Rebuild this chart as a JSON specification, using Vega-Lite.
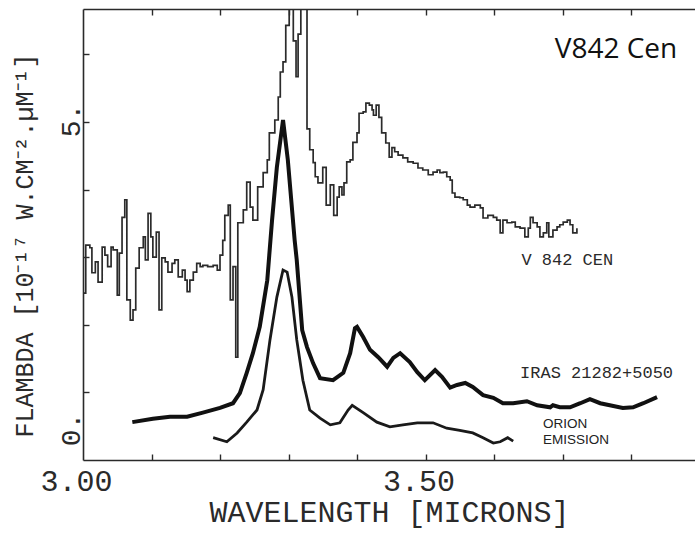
{
  "$schema": "https://vega.github.io/schema/vega-lite/v6.json",
  "width": 612,
  "height": 451,
  "autosize": "none",
  "padding": {"left": 83, "top": 9, "right": 0, "bottom": 75},
  "background": "white",
  "config": {
    "view": {"stroke": null},
    "axis": {
      "grid": false,
      "domainColor": "#2a2a2a",
      "domainWidth": 1.6,
      "tickColor": "#2a2a2a",
      "tickWidth": 1.4,
      "labelColor": "#2a2a2a",
      "titleColor": "#2a2a2a",
      "labelFont": "Liberation Mono",
      "titleFont": "Liberation Mono",
      "titleFontWeight": "normal",
      "labelOverlap": false,
      "labelFlush": false,
      "labelBound": false
    }
  },
  "datasets": {
    "v842": [
      {"wavelength": 3.000, "flux": 2.47},
      {"wavelength": 3.004, "flux": 3.18},
      {"wavelength": 3.010, "flux": 3.14},
      {"wavelength": 3.013, "flux": 2.77},
      {"wavelength": 3.018, "flux": 2.93},
      {"wavelength": 3.022, "flux": 2.63},
      {"wavelength": 3.028, "flux": 3.15},
      {"wavelength": 3.032, "flux": 3.03},
      {"wavelength": 3.036, "flux": 2.86},
      {"wavelength": 3.041, "flux": 3.15},
      {"wavelength": 3.044, "flux": 3.11},
      {"wavelength": 3.050, "flux": 2.44},
      {"wavelength": 3.053, "flux": 3.06},
      {"wavelength": 3.057, "flux": 3.59},
      {"wavelength": 3.061, "flux": 3.85},
      {"wavelength": 3.064, "flux": 2.37},
      {"wavelength": 3.069, "flux": 2.07},
      {"wavelength": 3.073, "flux": 2.22},
      {"wavelength": 3.077, "flux": 2.84},
      {"wavelength": 3.082, "flux": 3.14},
      {"wavelength": 3.088, "flux": 3.30},
      {"wavelength": 3.091, "flux": 2.96},
      {"wavelength": 3.095, "flux": 3.65},
      {"wavelength": 3.099, "flux": 3.30},
      {"wavelength": 3.102, "flux": 3.00},
      {"wavelength": 3.107, "flux": 3.37},
      {"wavelength": 3.111, "flux": 2.22},
      {"wavelength": 3.115, "flux": 2.99},
      {"wavelength": 3.120, "flux": 2.93},
      {"wavelength": 3.124, "flux": 2.78},
      {"wavelength": 3.130, "flux": 2.91},
      {"wavelength": 3.134, "flux": 2.96},
      {"wavelength": 3.139, "flux": 2.71},
      {"wavelength": 3.145, "flux": 2.81},
      {"wavelength": 3.149, "flux": 2.66},
      {"wavelength": 3.152, "flux": 2.49},
      {"wavelength": 3.156, "flux": 2.66},
      {"wavelength": 3.161, "flux": 2.78},
      {"wavelength": 3.166, "flux": 2.91},
      {"wavelength": 3.171, "flux": 2.86},
      {"wavelength": 3.175, "flux": 2.88},
      {"wavelength": 3.182, "flux": 2.86},
      {"wavelength": 3.190, "flux": 2.88},
      {"wavelength": 3.196, "flux": 2.81},
      {"wavelength": 3.200, "flux": 3.03},
      {"wavelength": 3.204, "flux": 3.25},
      {"wavelength": 3.207, "flux": 3.62},
      {"wavelength": 3.212, "flux": 3.77},
      {"wavelength": 3.215, "flux": 2.37},
      {"wavelength": 3.219, "flux": 2.86},
      {"wavelength": 3.223, "flux": 1.52},
      {"wavelength": 3.226, "flux": 3.51},
      {"wavelength": 3.234, "flux": 3.70},
      {"wavelength": 3.239, "flux": 4.11},
      {"wavelength": 3.244, "flux": 3.74},
      {"wavelength": 3.248, "flux": 3.55},
      {"wavelength": 3.255, "flux": 4.04},
      {"wavelength": 3.263, "flux": 4.25},
      {"wavelength": 3.269, "flux": 4.44},
      {"wavelength": 3.272, "flux": 4.84},
      {"wavelength": 3.280, "flux": 5.03},
      {"wavelength": 3.285, "flux": 5.37},
      {"wavelength": 3.288, "flux": 5.74},
      {"wavelength": 3.292, "flux": 5.89},
      {"wavelength": 3.296, "flux": 6.43},
      {"wavelength": 3.301, "flux": 7.2},
      {"wavelength": 3.307, "flux": 6.2},
      {"wavelength": 3.311, "flux": 5.67},
      {"wavelength": 3.314, "flux": 6.3},
      {"wavelength": 3.318, "flux": 7.2},
      {"wavelength": 3.327, "flux": 4.9},
      {"wavelength": 3.331, "flux": 4.59},
      {"wavelength": 3.336, "flux": 4.40},
      {"wavelength": 3.339, "flux": 4.19},
      {"wavelength": 3.343, "flux": 4.10},
      {"wavelength": 3.350, "flux": 4.33},
      {"wavelength": 3.355, "flux": 3.77},
      {"wavelength": 3.361, "flux": 4.07},
      {"wavelength": 3.366, "flux": 3.62},
      {"wavelength": 3.371, "flux": 3.89},
      {"wavelength": 3.374, "flux": 4.04},
      {"wavelength": 3.378, "flux": 3.92},
      {"wavelength": 3.381, "flux": 4.10},
      {"wavelength": 3.385, "flux": 4.41},
      {"wavelength": 3.390, "flux": 4.44},
      {"wavelength": 3.394, "flux": 4.70},
      {"wavelength": 3.400, "flux": 4.84},
      {"wavelength": 3.403, "flux": 5.13},
      {"wavelength": 3.409, "flux": 5.15},
      {"wavelength": 3.413, "flux": 5.28},
      {"wavelength": 3.418, "flux": 5.25},
      {"wavelength": 3.422, "flux": 5.18},
      {"wavelength": 3.424, "flux": 5.10},
      {"wavelength": 3.428, "flux": 5.25},
      {"wavelength": 3.432, "flux": 5.07},
      {"wavelength": 3.436, "flux": 4.84},
      {"wavelength": 3.442, "flux": 4.69},
      {"wavelength": 3.447, "flux": 4.48},
      {"wavelength": 3.451, "flux": 4.62},
      {"wavelength": 3.455, "flux": 4.56},
      {"wavelength": 3.460, "flux": 4.51},
      {"wavelength": 3.467, "flux": 4.47},
      {"wavelength": 3.474, "flux": 4.41},
      {"wavelength": 3.482, "flux": 4.39},
      {"wavelength": 3.489, "flux": 4.32},
      {"wavelength": 3.496, "flux": 4.29},
      {"wavelength": 3.504, "flux": 4.22},
      {"wavelength": 3.511, "flux": 4.26},
      {"wavelength": 3.517, "flux": 4.29},
      {"wavelength": 3.521, "flux": 4.25},
      {"wavelength": 3.526, "flux": 4.26},
      {"wavelength": 3.531, "flux": 4.19},
      {"wavelength": 3.536, "flux": 4.14},
      {"wavelength": 3.539, "flux": 3.95},
      {"wavelength": 3.543, "flux": 3.89},
      {"wavelength": 3.550, "flux": 3.88},
      {"wavelength": 3.555, "flux": 3.85},
      {"wavelength": 3.561, "flux": 3.77},
      {"wavelength": 3.565, "flux": 3.74},
      {"wavelength": 3.572, "flux": 3.77},
      {"wavelength": 3.580, "flux": 3.73},
      {"wavelength": 3.584, "flux": 3.58},
      {"wavelength": 3.591, "flux": 3.62},
      {"wavelength": 3.599, "flux": 3.59},
      {"wavelength": 3.604, "flux": 3.55},
      {"wavelength": 3.609, "flux": 3.36},
      {"wavelength": 3.613, "flux": 3.55},
      {"wavelength": 3.619, "flux": 3.51},
      {"wavelength": 3.626, "flux": 3.52},
      {"wavelength": 3.631, "flux": 3.45},
      {"wavelength": 3.638, "flux": 3.43},
      {"wavelength": 3.645, "flux": 3.30},
      {"wavelength": 3.650, "flux": 3.43},
      {"wavelength": 3.653, "flux": 3.59},
      {"wavelength": 3.657, "flux": 3.51},
      {"wavelength": 3.663, "flux": 3.45},
      {"wavelength": 3.667, "flux": 3.30},
      {"wavelength": 3.672, "flux": 3.36},
      {"wavelength": 3.677, "flux": 3.51},
      {"wavelength": 3.680, "flux": 3.30},
      {"wavelength": 3.686, "flux": 3.40},
      {"wavelength": 3.692, "flux": 3.45},
      {"wavelength": 3.696, "flux": 3.48},
      {"wavelength": 3.701, "flux": 3.52},
      {"wavelength": 3.707, "flux": 3.55},
      {"wavelength": 3.711, "flux": 3.48},
      {"wavelength": 3.715, "flux": 3.36},
      {"wavelength": 3.721, "flux": 3.43}
    ],
    "iras": [
      {"wavelength": 3.072, "flux": 0.56},
      {"wavelength": 3.102, "flux": 0.61},
      {"wavelength": 3.127, "flux": 0.64},
      {"wavelength": 3.152, "flux": 0.64},
      {"wavelength": 3.175, "flux": 0.70},
      {"wavelength": 3.200, "flux": 0.77},
      {"wavelength": 3.219, "flux": 0.84},
      {"wavelength": 3.229, "flux": 0.99},
      {"wavelength": 3.239, "flux": 1.29},
      {"wavelength": 3.248, "flux": 1.58},
      {"wavelength": 3.258, "flux": 1.97},
      {"wavelength": 3.269, "flux": 2.66},
      {"wavelength": 3.276, "flux": 3.55},
      {"wavelength": 3.283, "flux": 4.33},
      {"wavelength": 3.292, "flux": 5.03},
      {"wavelength": 3.299, "flux": 4.44},
      {"wavelength": 3.309, "flux": 3.25},
      {"wavelength": 3.312, "flux": 2.96},
      {"wavelength": 3.320, "flux": 1.92},
      {"wavelength": 3.327, "flux": 1.67},
      {"wavelength": 3.336, "flux": 1.43},
      {"wavelength": 3.346, "flux": 1.21},
      {"wavelength": 3.365, "flux": 1.18},
      {"wavelength": 3.380, "flux": 1.29},
      {"wavelength": 3.390, "flux": 1.58},
      {"wavelength": 3.397, "flux": 1.95},
      {"wavelength": 3.400, "flux": 1.97},
      {"wavelength": 3.409, "flux": 1.82},
      {"wavelength": 3.419, "flux": 1.63},
      {"wavelength": 3.431, "flux": 1.52},
      {"wavelength": 3.444, "flux": 1.38},
      {"wavelength": 3.453, "flux": 1.51},
      {"wavelength": 3.463, "flux": 1.58},
      {"wavelength": 3.477, "flux": 1.45},
      {"wavelength": 3.488, "flux": 1.30},
      {"wavelength": 3.499, "flux": 1.18},
      {"wavelength": 3.514, "flux": 1.33},
      {"wavelength": 3.524, "flux": 1.23},
      {"wavelength": 3.536, "flux": 1.07},
      {"wavelength": 3.546, "flux": 1.11},
      {"wavelength": 3.558, "flux": 1.14},
      {"wavelength": 3.569, "flux": 1.08},
      {"wavelength": 3.584, "flux": 0.96},
      {"wavelength": 3.599, "flux": 0.92},
      {"wavelength": 3.613, "flux": 0.84},
      {"wavelength": 3.628, "flux": 0.84},
      {"wavelength": 3.648, "flux": 0.87},
      {"wavelength": 3.663, "flux": 0.81},
      {"wavelength": 3.682, "flux": 0.78},
      {"wavelength": 3.686, "flux": 0.81},
      {"wavelength": 3.696, "flux": 0.78},
      {"wavelength": 3.711, "flux": 0.78},
      {"wavelength": 3.726, "flux": 0.84},
      {"wavelength": 3.740, "flux": 0.90},
      {"wavelength": 3.755, "flux": 0.84},
      {"wavelength": 3.769, "flux": 0.81},
      {"wavelength": 3.788, "flux": 0.77},
      {"wavelength": 3.803, "flux": 0.78},
      {"wavelength": 3.818, "flux": 0.84},
      {"wavelength": 3.838, "flux": 0.93}
    ],
    "orion": [
      {"wavelength": 3.190, "flux": 0.33},
      {"wavelength": 3.210, "flux": 0.27},
      {"wavelength": 3.225, "flux": 0.40},
      {"wavelength": 3.239, "flux": 0.56},
      {"wavelength": 3.254, "flux": 0.74},
      {"wavelength": 3.263, "flux": 1.04},
      {"wavelength": 3.273, "flux": 1.78},
      {"wavelength": 3.283, "flux": 2.41},
      {"wavelength": 3.292, "flux": 2.81},
      {"wavelength": 3.298, "flux": 2.78},
      {"wavelength": 3.305, "flux": 2.41},
      {"wavelength": 3.312, "flux": 1.78},
      {"wavelength": 3.321, "flux": 1.18},
      {"wavelength": 3.331, "flux": 0.74},
      {"wavelength": 3.346, "flux": 0.62},
      {"wavelength": 3.361, "flux": 0.52},
      {"wavelength": 3.375, "flux": 0.55},
      {"wavelength": 3.387, "flux": 0.74},
      {"wavelength": 3.393, "flux": 0.81},
      {"wavelength": 3.409, "flux": 0.70},
      {"wavelength": 3.429, "flux": 0.56},
      {"wavelength": 3.448, "flux": 0.49},
      {"wavelength": 3.467, "flux": 0.52},
      {"wavelength": 3.488, "flux": 0.55},
      {"wavelength": 3.511, "flux": 0.55},
      {"wavelength": 3.531, "flux": 0.47},
      {"wavelength": 3.550, "flux": 0.44},
      {"wavelength": 3.569, "flux": 0.40},
      {"wavelength": 3.584, "flux": 0.33},
      {"wavelength": 3.599, "flux": 0.25},
      {"wavelength": 3.609, "flux": 0.27},
      {"wavelength": 3.620, "flux": 0.33},
      {"wavelength": 3.628, "flux": 0.28}
    ],
    "title": [{"wavelength": 3.778, "flux": 5.95, "text": "V842 Cen"}],
    "mono": [
      {"wavelength": 3.707, "flux": 2.96, "text": "V 842 CEN", "anchor": "center"},
      {"wavelength": 3.638, "flux": 1.29, "text": "IRAS 21282+5050", "anchor": "left"}
    ],
    "sans": [
      {"wavelength": 3.6715, "flux": 0.53, "text": "ORION"},
      {"wavelength": 3.6715, "flux": 0.30, "text": "EMISSION"}
    ]
  },
  "layer": [
    {
      "data": {"name": "v842"},
      "mark": {"type": "line", "interpolate": "step-after", "clip": true, "stroke": "#2b2b2b", "strokeWidth": 1.7},
      "encoding": {
        "x": {
          "field": "wavelength", "type": "quantitative",
          "scale": {"domain": [3.0, 3.8934], "nice": false, "zero": false},
          "axis": {
            "orient": "bottom",
            "values": [3.0, 3.5],
            "labelExpr": "datum.value == 3 ? '3.00' : '3.50'",
            "ticks": false,
            "labelFontSize": 30,
            "labelPadding": 6,
            "labelOffset": -7,
            "title": "WAVELENGTH [MICRONS]",
            "titleFontSize": 30,
            "titlePadding": 1
          }
        },
        "y": {
          "field": "flux", "type": "quantitative",
          "scale": {"domain": [0, 6.672], "nice": false, "zero": false},
          "axis": {
            "orient": "left",
            "values": [5],
            "labelExpr": "'5.'",
            "ticks": false,
            "labelAngle": -90,
            "labelAlign": "center",
            "labelBaseline": "alphabetic",
            "labelFontSize": 28,
            "labelPadding": 4,
            "labelOffset": -2,
            "title": "FLAMBDA [10⁻¹⁷ W.CM⁻².µM⁻¹]",
            "titleFontSize": 25,
            "titlePadding": 20,
            "titleY": 236
          }
        }
      }
    },
    {
      "data": {"name": "iras"},
      "mark": {"type": "line", "interpolate": "linear", "clip": true, "stroke": "#111111", "strokeWidth": 4},
      "encoding": {
        "x": {
          "field": "wavelength", "type": "quantitative",
          "axis": {"orient": "bottom", "values": [3.1, 3.2, 3.3, 3.4, 3.5, 3.6, 3.7, 3.8], "domain": false, "labels": false, "tickSize": 6, "offset": -6, "title": null}
        },
        "y": {
          "field": "flux", "type": "quantitative",
          "axis": {"orient": "left", "values": [1, 2, 3, 4, 5, 6], "domain": false, "labels": false, "tickSize": 6, "offset": -6, "title": null}
        }
      }
    },
    {
      "data": {"name": "orion"},
      "mark": {"type": "line", "interpolate": "linear", "clip": true, "stroke": "#1a1a1a", "strokeWidth": 2.8},
      "encoding": {
        "x": {
          "field": "wavelength", "type": "quantitative",
          "axis": {"orient": "top", "values": [3.1, 3.2, 3.3, 3.4, 3.5, 3.6, 3.7, 3.8], "domain": false, "labels": false, "tickSize": 6, "offset": -6, "title": null}
        },
        "y": {
          "field": "flux", "type": "quantitative",
          "axis": {"orient": "left", "values": [0], "labelExpr": "'0.'", "domain": false, "ticks": false, "labelAngle": -90, "labelAlign": "center", "labelBaseline": "alphabetic", "labelFontSize": 28, "labelPadding": 4, "labelOffset": -31, "title": null}
        }
      }
    },
    {
      "data": {"name": "title"},
      "mark": {"type": "text", "font": "Open Sans", "fontSize": 28, "align": "center", "baseline": "alphabetic", "color": "#111111"},
      "encoding": {
        "x": {
          "field": "wavelength", "type": "quantitative",
          "axis": {"orient": "top", "domain": true, "ticks": false, "labels": false, "title": null}
        },
        "y": {"field": "flux", "type": "quantitative", "axis": null},
        "text": {"field": "text"}
      }
    },
    {
      "data": {"name": "mono"},
      "transform": [{"filter": "datum.anchor == 'center'"}],
      "mark": {"type": "text", "font": "Liberation Mono", "fontSize": 17, "align": "center", "baseline": "middle", "color": "#2a2a2a"},
      "encoding": {
        "x": {"field": "wavelength", "type": "quantitative", "axis": null},
        "y": {"field": "flux", "type": "quantitative", "axis": null},
        "text": {"field": "text"}
      }
    },
    {
      "data": {"name": "mono"},
      "transform": [{"filter": "datum.anchor == 'left'"}],
      "mark": {"type": "text", "font": "Liberation Mono", "fontSize": 17, "align": "left", "baseline": "middle", "color": "#2a2a2a"},
      "encoding": {
        "x": {"field": "wavelength", "type": "quantitative", "axis": null},
        "y": {"field": "flux", "type": "quantitative", "axis": null},
        "text": {"field": "text"}
      }
    },
    {
      "data": {"name": "sans"},
      "mark": {"type": "text", "font": "Liberation Sans", "fontSize": 13.5, "align": "left", "baseline": "middle", "color": "#222222"},
      "encoding": {
        "x": {"field": "wavelength", "type": "quantitative", "axis": null},
        "y": {"field": "flux", "type": "quantitative", "axis": null},
        "text": {"field": "text"}
      }
    }
  ],
  "resolve": {"axis": {"x": "independent", "y": "independent"}}
}
